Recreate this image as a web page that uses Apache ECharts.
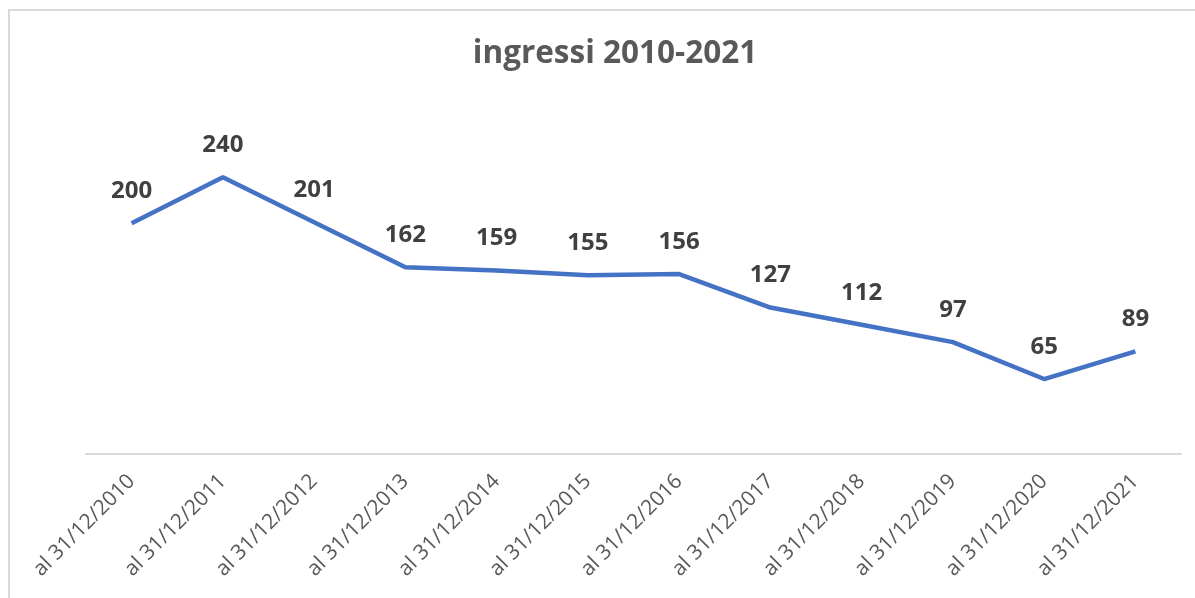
<!DOCTYPE html>
<html>
<head>
<meta charset="utf-8">
<script src="https://cdn.jsdelivr.net/npm/echarts@6/dist/echarts.min.js"></script>
<style>
  html, body { margin: 0; padding: 0; background: #fff; overflow: hidden; }
  #frame {
    position: absolute; left: 8px; top: 9px; width: 1200px; height: 600px;
    border-left: 2px solid #d9d9d9; border-top: 2px solid #d9d9d9;
  }
  #chart { position: absolute; left: 0; top: 0; width: 1195px; height: 598px; }
</style>
</head>
<body>
<div id="frame"></div>
<div id="chart"></div>
<script>
  // dati
  var categories = [
    'al 31/12/2010', 'al 31/12/2011', 'al 31/12/2012', 'al 31/12/2013',
    'al 31/12/2014', 'al 31/12/2015', 'al 31/12/2016', 'al 31/12/2017',
    'al 31/12/2018', 'al 31/12/2019', 'al 31/12/2020', 'al 31/12/2021'
  ];
  var ingressi = [200, 240, 201, 162, 159, 155, 156, 127, 112, 97, 65, 89];

  var chart = echarts.init(document.getElementById('chart'));
  chart.setOption({
    animation: false,
    title: {
      text: 'ingressi 2010-2021',
      left: 610,
      top: 33,
      textAlign: 'center',
      textStyle: {
        fontFamily: 'Open Sans',
        fontWeight: 'bold',
        fontSize: 31.5,
        color: '#595959'
      }
    },
    grid: { left: 86, right: 14, top: 108, bottom: 144 },
    xAxis: {
      type: 'category',
      data: categories,
      boundaryGap: true,
      axisLine: { lineStyle: { color: '#d9d9d9', width: 2 } },
      axisTick: { show: false },
      axisLabel: {
        rotate: 45,
        margin: 24,
        fontFamily: 'Open Sans',
        fontSize: 21,
        color: '#595959',
        interval: 0
      }
    },
    yAxis: {
      type: 'value',
      min: 0,
      max: 300,
      show: false
    },
    series: [
      {
        type: 'line',
        data: ingressi,
        symbol: 'circle',
        symbolSize: 0,
        showSymbol: true,
        itemStyle: { color: '#4472C4' },
        lineStyle: { color: '#4472C4', width: 4.5 },
        label: {
          show: true,
          position: 'top',
          distance: 20,
          fontFamily: 'Open Sans',
          fontWeight: 'bold',
          fontSize: 24,
          color: '#404040'
        }
      }
    ]
  });
</script>
</body>
</html>
